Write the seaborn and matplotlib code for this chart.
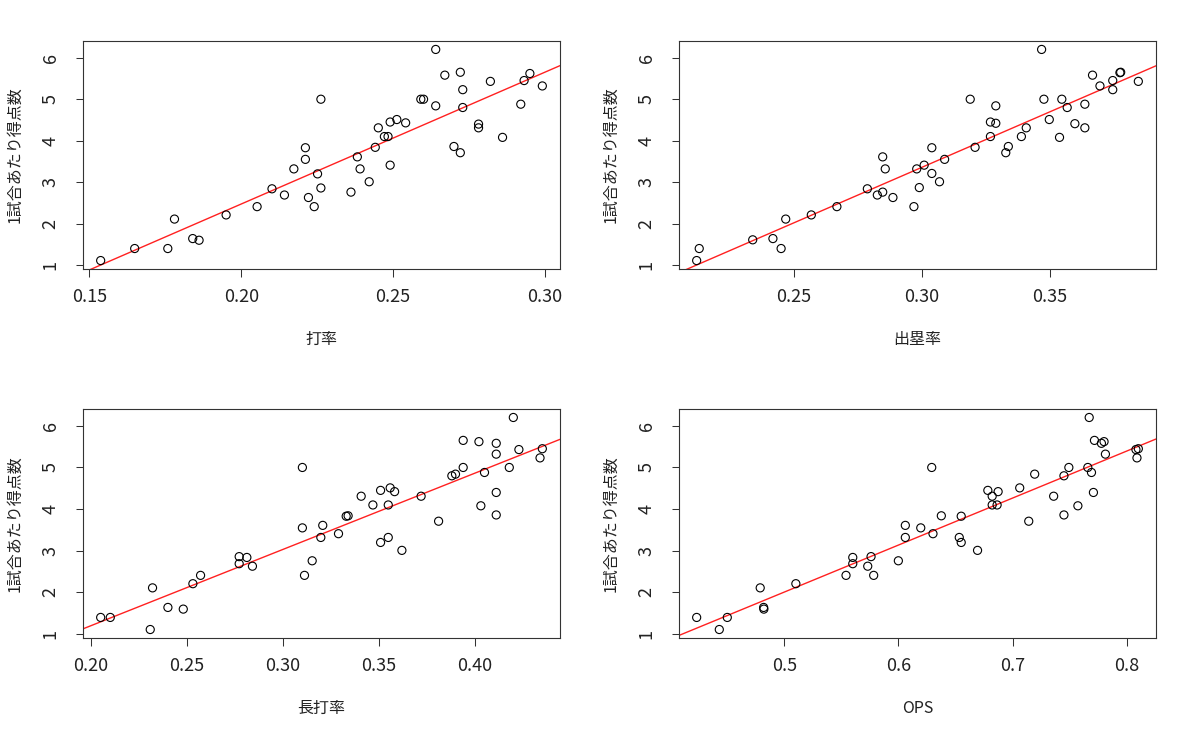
import numpy as np
import pandas as pd
import matplotlib
matplotlib.use("Agg")
import matplotlib.pyplot as plt
import seaborn as sns

# ---- data ----
avg = [0.1537, 0.1649, 0.1758, 0.1780, 0.1840, 0.1861, 0.1950, 0.2052, 0.2101, 0.2142,
       0.2173, 0.2211, 0.2211, 0.2221, 0.2240, 0.2251, 0.2262, 0.2262, 0.2361, 0.2382,
       0.2391, 0.2421, 0.2441, 0.2451, 0.2471, 0.2483, 0.2490, 0.2490, 0.2512, 0.2541,
       0.2591, 0.2600, 0.2640, 0.2640, 0.2670, 0.2700, 0.2721, 0.2721, 0.2729, 0.2729,
       0.2781, 0.2781, 0.2820, 0.2860, 0.2920, 0.2931, 0.2950, 0.2991]
runs_avg = [1.11, 1.40, 1.40, 2.11, 1.64, 1.60, 2.21, 2.41, 2.84, 2.69,
            3.32, 3.83, 3.55, 2.63, 2.41, 3.20, 5.00, 2.86, 2.76, 3.61,
            3.32, 3.01, 3.84, 4.31, 4.10, 4.10, 4.45, 3.41, 4.51, 4.43,
            5.00, 5.00, 6.20, 4.84, 5.58, 3.86, 5.65, 3.71, 5.23, 4.80,
            4.40, 4.31, 5.43, 4.08, 4.88, 5.45, 5.62, 5.32]

obp = [0.2121, 0.2131, 0.2340, 0.2419, 0.2451, 0.2469, 0.2569, 0.2669, 0.2788, 0.2827,
       0.2848, 0.2848, 0.2858, 0.2888, 0.2970, 0.2981, 0.2991, 0.3010, 0.3040, 0.3040,
       0.3070, 0.3090, 0.3190, 0.3209, 0.3269, 0.3269, 0.3290, 0.3290, 0.3329, 0.3339,
       0.3390, 0.3409, 0.3469, 0.3478, 0.3499, 0.3539, 0.3548, 0.3569, 0.3599, 0.3638,
       0.3638, 0.3668, 0.3697, 0.3747, 0.3747, 0.3775, 0.3778, 0.3847]
runs_obp = [1.11, 1.40, 1.61, 1.64, 1.40, 2.11, 2.21, 2.41, 2.84, 2.69,
            2.76, 3.61, 3.32, 2.63, 2.41, 3.32, 2.87, 3.41, 3.83, 3.21,
            3.01, 3.55, 5.00, 3.84, 4.45, 4.10, 4.84, 4.42, 3.71, 3.86,
            4.10, 4.31, 6.20, 5.00, 4.51, 4.08, 5.00, 4.80, 4.41, 4.88,
            4.31, 5.58, 5.32, 5.45, 5.23, 5.64, 5.65, 5.43]

slg = [0.2052, 0.2102, 0.2310, 0.2322, 0.2402, 0.2482, 0.2532, 0.2572, 0.2773, 0.2773,
       0.2813, 0.2842, 0.3102, 0.3102, 0.3113, 0.3153, 0.3198, 0.3208, 0.3290, 0.3330,
       0.3340, 0.3408, 0.3469, 0.3509, 0.3509, 0.3549, 0.3549, 0.3559, 0.3582, 0.3620,
       0.3720, 0.3811, 0.3880, 0.3899, 0.3939, 0.3939, 0.4021, 0.4031, 0.4050, 0.4111,
       0.4111, 0.4111, 0.4111, 0.4179, 0.4200, 0.4229, 0.4339, 0.4351]
runs_slg = [1.40, 1.40, 1.11, 2.11, 1.64, 1.60, 2.21, 2.41, 2.86, 2.69,
            2.84, 2.63, 5.00, 3.55, 2.41, 2.76, 3.32, 3.61, 3.41, 3.83,
            3.84, 4.31, 4.10, 4.45, 3.20, 4.10, 3.32, 4.51, 4.42, 3.01,
            4.31, 3.71, 4.80, 4.84, 5.00, 5.65, 5.62, 4.08, 4.88, 5.58,
            5.32, 4.40, 3.86, 5.00, 6.20, 5.43, 5.23, 5.45]

ops = [0.4234, 0.4432, 0.4502, 0.4790, 0.4820, 0.4822, 0.5102, 0.5541, 0.5600, 0.5600,
       0.5731, 0.5760, 0.5783, 0.5999, 0.6060, 0.6060, 0.6195, 0.6291, 0.6302, 0.6375,
       0.6532, 0.6549, 0.6549, 0.6692, 0.6782, 0.6820, 0.6820, 0.6863, 0.6872, 0.7061,
       0.7140, 0.7192, 0.7358, 0.7448, 0.7448, 0.7491, 0.7570, 0.7657, 0.7669, 0.7689,
       0.7706, 0.7715, 0.7776, 0.7799, 0.7811, 0.8078, 0.8087, 0.8099]
runs_ops = [1.40, 1.11, 1.40, 2.11, 1.64, 1.60, 2.21, 2.41, 2.84, 2.69,
            2.63, 2.86, 2.41, 2.76, 3.61, 3.32, 3.55, 5.00, 3.41, 3.84,
            3.32, 3.83, 3.20, 3.01, 4.45, 4.31, 4.10, 4.10, 4.42, 4.51,
            3.71, 4.84, 4.31, 4.80, 3.86, 5.00, 4.08, 5.00, 6.20, 4.88,
            4.40, 5.65, 5.58, 5.62, 5.32, 5.43, 5.23, 5.45]

x_labels = ["打率", "出塁率", "長打率", "OPS"]
y_label = "1試合あたり得点数"
x_ticks = [[0.15, 0.20, 0.25, 0.30], [0.25, 0.30, 0.35],
           [0.20, 0.25, 0.30, 0.35, 0.40], [0.5, 0.6, 0.7, 0.8]]
x_ticklabels = [["0.15", "0.20", "0.25", "0.30"], ["0.25", "0.30", "0.35"],
                ["0.20", "0.25", "0.30", "0.35", "0.40"], ["0.5", "0.6", "0.7", "0.8"]]
y_ticks = [1, 2, 3, 4, 5, 6]

# ---- style ----
sns.set_style("ticks")
plt.rcParams["font.family"] = ["Noto Sans CJK JP", "DejaVu Sans"]

W, H = 1200, 741
fig = plt.figure(figsize=(W / 100, H / 100), dpi=100)


def rect(l, t, r, b):
    return [l / W, 1 - b / H, (r - l) / W, (b - t) / H]


positions = [rect(83, 41, 560, 269), rect(679, 41, 1156, 269),
             rect(83, 409, 560, 638), rect(679, 409, 1156, 638)]
xs = [avg, obp, slg, ops]
ys = [runs_avg, runs_obp, runs_slg, runs_ops]

edge = "#333333"
for i in range(4):
    ax = fig.add_axes(positions[i])
    df = pd.DataFrame({"x": xs[i], "y": ys[i]})
    xmin, xmax = df["x"].min(), df["x"].max()
    ymin, ymax = df["y"].min(), df["y"].max()
    xr, yr = xmax - xmin, ymax - ymin
    xlim = (xmin - 0.04 * xr, xmax + 0.04 * xr)
    ylim = (ymin - 0.04 * yr, ymax + 0.04 * yr)
    ax.set_xlim(xlim)
    ax.set_ylim(ylim)
    sns.regplot(data=df, x="x", y="y", ax=ax, scatter=False, ci=None,
                truncate=False, line_kws={"color": "#ff2020", "lw": 1.0})
    sns.scatterplot(data=df, x="x", y="y", ax=ax, marker="o", s=34,
                    facecolor="none", edgecolor="black", linewidth=0.8,
                    zorder=3)
    ax.set_xlim(xlim)
    ax.set_ylim(ylim)
    ax.set_xticks(x_ticks[i])
    ax.set_xticklabels(x_ticklabels[i])
    ax.set_yticks(y_ticks)
    ax.set_yticklabels([str(v) for v in y_ticks])
    for lab in ax.get_yticklabels():
        lab.set_rotation(90)
        lab.set_va("center")
    ax.tick_params(axis="both", direction="out", length=5.4, width=0.75,
                   color=edge, labelsize=13, labelcolor="#222222")
    ax.tick_params(axis="x", pad=8.0)
    ax.tick_params(axis="y", pad=11.5)
    for s in ax.spines.values():
        s.set_visible(True)
        s.set_linewidth(0.8)
        s.set_color(edge)
    ax.set_xlabel(x_labels[i], fontsize=11.5, color="#222222")
    ax.set_ylabel(y_label, fontsize=11.5, color="#222222")
    ax.xaxis.set_label_coords(0.5, -(331 - 269) / 228)
    ax.yaxis.set_label_coords(-60 / 477, 0.5)

fig.savefig("out.png", dpi=100)
